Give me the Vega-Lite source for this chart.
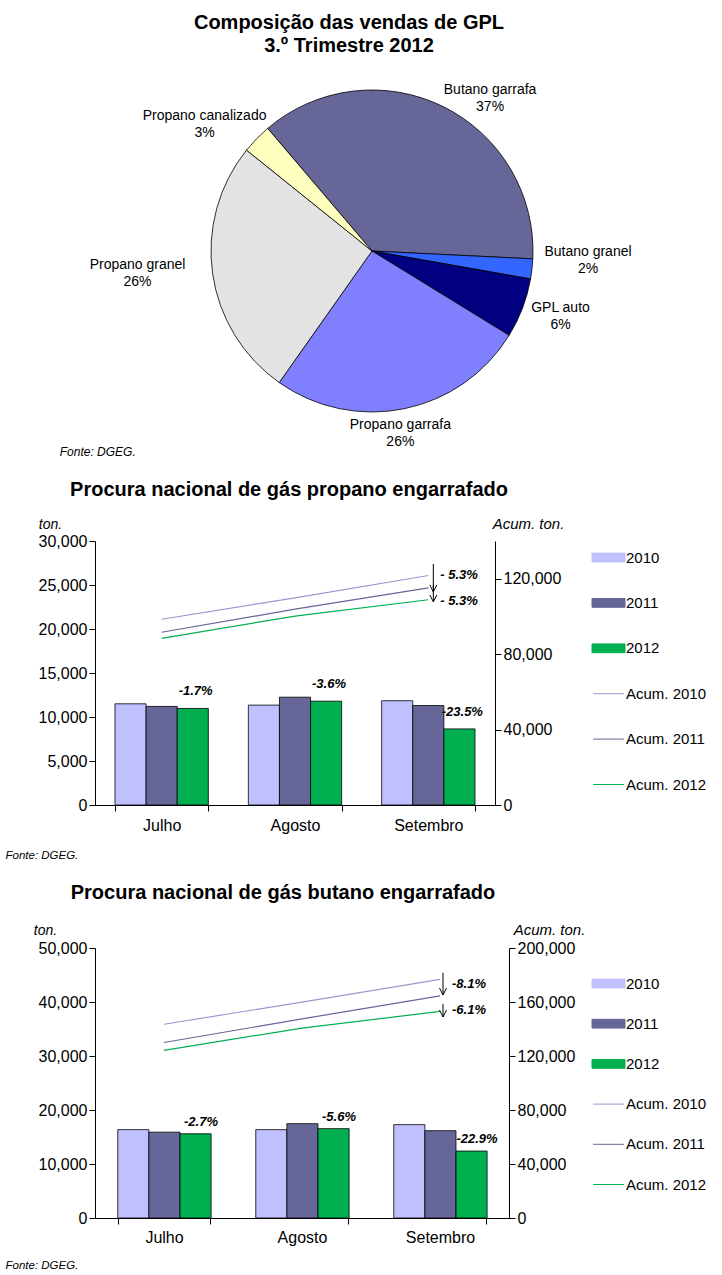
{
  "$schema": "https://vega.github.io/schema/vega-lite/v6.json",
  "background": "white",
  "padding": {"left": 5, "top": 13, "right": 0, "bottom": 0},
  "spacing": 22,
  "resolve": {"scale": {"color": "independent", "y": "independent", "x": "independent", "theta": "independent"}, "legend": {"color": "independent"}},
  "title": {"text": ["Composição  das vendas de GPL", "3.º Trimestre 2012"], "fontSize": 20, "fontWeight": "bold", "lineHeight": 23, "anchor": "middle", "dx": -7, "color": "#000", "offset": 1},
  "datasets": {
    "pie": [
      {"cat": "Butano garrafa", "pct": 37, "k": 1, "lbl": "Butano garrafa\n37%"},
      {"cat": "Butano granel", "pct": 2, "k": 2, "lbl": "Butano granel\n2%"},
      {"cat": "GPL auto", "pct": 6, "k": 3, "lbl": "GPL auto\n6%"},
      {"cat": "Propano garrafa", "pct": 26, "k": 4, "lbl": "Propano garrafa\n26%"},
      {"cat": "Propano granel", "pct": 26, "k": 5, "lbl": "Propano granel\n26%"},
      {"cat": "Propano canalizado", "pct": 3, "k": 6, "lbl": "Propano canalizado\n3%"}
    ],
    "prop_m": [
      {"mes": "Julho", "serie": "2010", "ton": 11500},
      {"mes": "Julho", "serie": "2011", "ton": 11200},
      {"mes": "Julho", "serie": "2012", "ton": 10970},
      {"mes": "Agosto", "serie": "2010", "ton": 11350},
      {"mes": "Agosto", "serie": "2011", "ton": 12250},
      {"mes": "Agosto", "serie": "2012", "ton": 11800},
      {"mes": "Setembro", "serie": "2010", "ton": 11850},
      {"mes": "Setembro", "serie": "2011", "ton": 11300},
      {"mes": "Setembro", "serie": "2012", "ton": 8650}
    ],
    "prop_a": [
      {"mes": "Julho", "serie": "Acum. 2010", "acum": 98500},
      {"mes": "Agosto", "serie": "Acum. 2010", "acum": 109850},
      {"mes": "Setembro", "serie": "Acum. 2010", "acum": 121700},
      {"mes": "Julho", "serie": "Acum. 2011", "acum": 91600},
      {"mes": "Agosto", "serie": "Acum. 2011", "acum": 103850},
      {"mes": "Setembro", "serie": "Acum. 2011", "acum": 115150},
      {"mes": "Julho", "serie": "Acum. 2012", "acum": 88400},
      {"mes": "Agosto", "serie": "Acum. 2012", "acum": 100200},
      {"mes": "Setembro", "serie": "Acum. 2012", "acum": 108850}
    ],
    "prop_ann": [
      {"mes": "Julho", "v": 10970, "lbl": "-1.7%"},
      {"mes": "Agosto", "v": 11800, "lbl": "-3.6%"},
      {"mes": "Setembro", "v": 8650, "lbl": "-23.5%"}
    ],
    "prop_arr": [
      {"mes": "Setembro", "from": 127800, "to": 113000, "ly": 122000, "lbl": "- 5.3%"},
      {"mes": "Setembro", "from": 116700, "to": 107700, "ly": 108200, "lbl": "- 5.3%"}
    ],
    "but_m": [
      {"mes": "Julho", "serie": "2010", "ton": 16360},
      {"mes": "Julho", "serie": "2011", "ton": 15900},
      {"mes": "Julho", "serie": "2012", "ton": 15600},
      {"mes": "Agosto", "serie": "2010", "ton": 16360},
      {"mes": "Agosto", "serie": "2011", "ton": 17470},
      {"mes": "Agosto", "serie": "2012", "ton": 16550},
      {"mes": "Setembro", "serie": "2010", "ton": 17290},
      {"mes": "Setembro", "serie": "2011", "ton": 16170},
      {"mes": "Setembro", "serie": "2012", "ton": 12400}
    ],
    "but_a": [
      {"mes": "Julho", "serie": "Acum. 2010", "acum": 143500},
      {"mes": "Agosto", "serie": "Acum. 2010", "acum": 159900},
      {"mes": "Setembro", "serie": "Acum. 2010", "acum": 176800},
      {"mes": "Julho", "serie": "Acum. 2011", "acum": 130000},
      {"mes": "Agosto", "serie": "Acum. 2011", "acum": 147500},
      {"mes": "Setembro", "serie": "Acum. 2011", "acum": 164500},
      {"mes": "Julho", "serie": "Acum. 2012", "acum": 124200},
      {"mes": "Agosto", "serie": "Acum. 2012", "acum": 140700},
      {"mes": "Setembro", "serie": "Acum. 2012", "acum": 153000}
    ],
    "but_ann": [
      {"mes": "Julho", "v": 15600, "lbl": "-2.7%"},
      {"mes": "Agosto", "v": 16550, "lbl": "-5.6%"},
      {"mes": "Setembro", "v": 12400, "lbl": "-22.9%"}
    ],
    "but_arr": [
      {"mes": "Setembro", "from": 181600, "to": 165200, "ly": 173300, "lbl": "-8.1%"},
      {"mes": "Setembro", "from": 158600, "to": 148900, "ly": 154100, "lbl": "-6.1%"}
    ]
  },
  "vconcat": [
    {
      "width": 554,
      "height": 388,
      "data": {"name": "pie"},
      "title": {"text": "Fonte:  DGEG.", "orient": "bottom", "anchor": "start", "dx": -30, "fontSize": 12, "fontStyle": "italic", "fontWeight": "normal", "offset": -2, "color": "#000"},
      "encoding": {
        "theta": {"field": "pct", "type": "quantitative", "stack": true, "scale": {"range": [-0.7051, 5.5781]}},
        "order": {"field": "k", "type": "quantitative"}
      },
      "layer": [
        {
          "mark": {"type": "arc", "outerRadius": 161, "stroke": "#000", "strokeWidth": 0.8},
          "encoding": {
            "color": {"field": "cat", "type": "nominal", "legend": null,
              "scale": {"domain": ["Butano garrafa", "Butano granel", "GPL auto", "Propano garrafa", "Propano granel", "Propano canalizado"],
                        "range": ["#666699", "#3366FF", "#000080", "#8080FF", "#E3E3E3", "#FFFFC0"]}}
          }
        },
        {"mark": {"type": "text", "radius": 161, "dx": 47, "dy": -17, "fontSize": 14, "lineBreak": "\n", "lineHeight": 17, "color": "#000"},
         "encoding": {"text": {"condition": {"test": "datum.k === 1", "field": "lbl"}, "value": ""}}},
        {"mark": {"type": "text", "radius": 161, "dx": 56, "dy": -17, "fontSize": 14, "lineBreak": "\n", "lineHeight": 17, "color": "#000"},
         "encoding": {"text": {"condition": {"test": "datum.k === 2", "field": "lbl"}, "value": ""}}},
        {"mark": {"type": "text", "radius": 161, "dx": 38, "dy": 0, "fontSize": 14, "lineBreak": "\n", "lineHeight": 17, "color": "#000"},
         "encoding": {"text": {"condition": {"test": "datum.k === 3", "field": "lbl"}, "value": ""}}},
        {"mark": {"type": "text", "radius": 161, "dx": -4, "dy": 16, "fontSize": 14, "lineBreak": "\n", "lineHeight": 17, "color": "#000"},
         "encoding": {"text": {"condition": {"test": "datum.k === 4", "field": "lbl"}, "value": ""}}},
        {"mark": {"type": "text", "radius": 161, "dx": -75, "dy": -8, "fontSize": 14, "lineBreak": "\n", "lineHeight": 17, "color": "#000"},
         "encoding": {"text": {"condition": {"test": "datum.k === 5", "field": "lbl"}, "value": ""}}},
        {"mark": {"type": "text", "radius": 161, "dx": -52, "dy": -23, "fontSize": 14, "lineBreak": "\n", "lineHeight": 17, "color": "#000"},
         "encoding": {"text": {"condition": {"test": "datum.k === 6", "field": "lbl"}, "value": ""}}}
      ]
    },
    {
      "width": 400,
      "height": 264,
      "title": {"text": "Procura nacional  de gás propano engarrafado", "fontSize": 20, "fontWeight": "bold", "anchor": "middle", "dx": -6, "offset": 16, "color": "#000"},
      "encoding": {
        "x": {"field": "mes", "type": "nominal", "sort": ["Julho", "Agosto", "Setembro"],
              "scale": {"paddingInner": 0.3, "paddingOuter": 0.15},
              "axis": {"title": "Fonte: DGEG.", "labelAngle": 0, "tickBand": "extent", "titleX": -90, "titleY": 53, "titleAlign": "left", "titleAnchor": "start", "titleBaseline": "alphabetic", "titleFontSize": 11.5, "labelPadding": 6}}
      },
      "layer": [
        {
          "layer": [
            {
              "data": {"name": "prop_m"},
              "mark": {"type": "bar", "stroke": "#000", "strokeWidth": 0.8},
              "encoding": {
                "xOffset": {"field": "serie", "type": "nominal"},
                "y": {"field": "ton", "type": "quantitative", "scale": {"domain": [0, 30000]},
                      "axis": {"values": [0, 5000, 10000, 15000, 20000, 25000, 30000], "labelOverlap": false, "labelExpr": "format(datum.value, ',')", "title": "ton.", "titleAngle": 0, "titleX": -45, "titleY": -13, "titleAlign": "center", "titleBaseline": "alphabetic", "titleFontSize": 14}},
                "color": {"field": "serie", "type": "nominal",
                  "scale": {"domain": ["2010", "2011", "2012", "Acum. 2010", "Acum. 2011", "Acum. 2012"], "range": ["#C0C0FF", "#666699", "#00B050", "#9999CC", "#666699", "#00B050"]},
                  "legend": {"title": null, "symbolSize": 484, "orient": "none", "legendX": 502, "legendY": 5, "padding": 0, "rowPadding": 25.4,
                    "encode": {"symbols": {"update": {
                      "shape": {"signal": "indexof(datum.value, 'Acum') >= 0 ? 'M-1.4,0H1.4' : 'M-1.5,-0.4H1.5V0.4H-1.5Z'"},
                      "fill": {"signal": "datum.value === '2010' ? '#C0C0FF' : datum.value === '2011' ? '#666699' : datum.value === '2012' ? '#00B050' : 'transparent'"},
                      "stroke": {"signal": "datum.value === 'Acum. 2010' ? '#9999CC' : datum.value === 'Acum. 2011' ? '#666699' : datum.value === 'Acum. 2012' ? '#00B050' : '#000'"},
                      "strokeWidth": {"value": 1},
                      "opacity": {"value": 1}
                    }}}}
                }
              }
            },
            {
              "data": {"name": "prop_ann"},
              "mark": {"type": "text", "dx": 34, "dy": -17, "fontSize": 13, "fontWeight": "bold", "fontStyle": "italic", "color": "#000"},
              "encoding": {
                "y": {"field": "v", "type": "quantitative"},
                "text": {"field": "lbl"}
              }
            }
          ]
        },
        {
          "layer": [
            {
              "data": {"name": "prop_a"},
              "mark": {"type": "line", "strokeWidth": 1.2},
              "encoding": {
                "y": {"field": "acum", "type": "quantitative", "scale": {"domain": [0, 140000]},
                      "axis": {"orient": "right", "values": [0, 20000, 40000, 60000, 80000, 100000, 120000, 140000], "labelOverlap": false, "labelExpr": "format(datum.value, ',')", "title": "Acum. ton.", "titleAngle": 0, "titleX": 33, "titleY": -13, "titleAlign": "center", "titleBaseline": "alphabetic", "titleFontSize": 15}},
                "color": {"field": "serie", "type": "nominal",
                  "legend": {"title": null, "symbolSize": 484, "orient": "none", "legendX": 502, "legendY": 5, "padding": 0, "rowPadding": 25.4,
                    "encode": {"symbols": {"update": {
                      "shape": {"signal": "indexof(datum.value, 'Acum') >= 0 ? 'M-1.4,0H1.4' : 'M-1.5,-0.4H1.5V0.4H-1.5Z'"},
                      "fill": {"signal": "datum.value === '2010' ? '#C0C0FF' : datum.value === '2011' ? '#666699' : datum.value === '2012' ? '#00B050' : 'transparent'"},
                      "stroke": {"signal": "datum.value === 'Acum. 2010' ? '#9999CC' : datum.value === 'Acum. 2011' ? '#666699' : datum.value === 'Acum. 2012' ? '#00B050' : '#000'"},
                      "strokeWidth": {"value": 1},
                      "opacity": {"value": 1}
                    }}}}}
              }
            },
            {
              "data": {"name": "prop_arr"},
              "mark": {"type": "rule", "xOffset": 5, "color": "#000", "strokeWidth": 1},
              "encoding": {
                "y": {"field": "from", "type": "quantitative"},
                "y2": {"field": "to"}
              }
            },
            {
              "data": {"name": "prop_arr"},
              "mark": {"type": "point", "xOffset": 5, "shape": "M-0.7,-1.4L0,0L0.7,-1.4", "size": 100, "filled": false, "color": "#000", "strokeWidth": 1, "opacity": 1},
              "encoding": {
                "y": {"field": "to", "type": "quantitative"}
              }
            },
            {
              "data": {"name": "prop_arr"},
              "mark": {"type": "text", "dx": 12, "align": "left", "fontSize": 13, "fontWeight": "bold", "fontStyle": "italic", "color": "#000"},
              "encoding": {
                "y": {"field": "ly", "type": "quantitative"},
                "text": {"field": "lbl"}
              }
            }
          ]
        }
      ],
      "resolve": {"scale": {"y": "independent"}}
    },
    {
      "width": 414,
      "height": 270,
      "title": {"text": "Procura nacional  de gás butano engarrafado", "fontSize": 20, "fontWeight": "bold", "anchor": "middle", "dx": -19, "offset": 19, "color": "#000"},
      "encoding": {
        "x": {"field": "mes", "type": "nominal", "sort": ["Julho", "Agosto", "Setembro"],
              "scale": {"paddingInner": 0.33, "paddingOuter": 0.165},
              "axis": {"title": "Fonte: DGEG.", "labelAngle": 0, "tickBand": "extent", "titleX": -90, "titleY": 50, "titleAlign": "left", "titleAnchor": "start", "titleBaseline": "alphabetic", "titleFontSize": 11.5, "labelPadding": 5}}
      },
      "layer": [
        {
          "layer": [
            {
              "data": {"name": "but_m"},
              "mark": {"type": "bar", "stroke": "#000", "strokeWidth": 0.8},
              "encoding": {
                "xOffset": {"field": "serie", "type": "nominal"},
                "y": {"field": "ton", "type": "quantitative", "scale": {"domain": [0, 50000]},
                      "axis": {"values": [0, 5000, 10000, 15000, 20000, 25000, 30000, 35000, 40000, 45000, 50000], "labelOverlap": false, "labelExpr": "format(datum.value, ',')", "title": "ton.", "titleAngle": 0, "titleX": -50, "titleY": -14, "titleAlign": "center", "titleBaseline": "alphabetic", "titleFontSize": 14}},
                "color": {"field": "serie", "type": "nominal",
                  "scale": {"domain": ["2010", "2011", "2012", "Acum. 2010", "Acum. 2011", "Acum. 2012"], "range": ["#C0C0FF", "#666699", "#00B050", "#9999CC", "#666699", "#00B050"]},
                  "legend": {"title": null, "symbolSize": 484, "orient": "none", "legendX": 502, "legendY": 24, "padding": 0, "rowPadding": 20.2,
                    "encode": {"symbols": {"update": {
                      "shape": {"signal": "indexof(datum.value, 'Acum') >= 0 ? 'M-1.4,0H1.4' : 'M-1.5,-0.4H1.5V0.4H-1.5Z'"},
                      "fill": {"signal": "datum.value === '2010' ? '#C0C0FF' : datum.value === '2011' ? '#666699' : datum.value === '2012' ? '#00B050' : 'transparent'"},
                      "stroke": {"signal": "datum.value === 'Acum. 2010' ? '#9999CC' : datum.value === 'Acum. 2011' ? '#666699' : datum.value === 'Acum. 2012' ? '#00B050' : '#000'"},
                      "strokeWidth": {"value": 1},
                      "opacity": {"value": 1}
                    }}}}
                }
              }
            },
            {
              "data": {"name": "but_ann"},
              "mark": {"type": "text", "dx": 37, "dy": -12, "fontSize": 13, "fontWeight": "bold", "fontStyle": "italic", "color": "#000"},
              "encoding": {
                "y": {"field": "v", "type": "quantitative"},
                "text": {"field": "lbl"}
              }
            }
          ]
        },
        {
          "layer": [
            {
              "data": {"name": "but_a"},
              "mark": {"type": "line", "strokeWidth": 1.2},
              "encoding": {
                "y": {"field": "acum", "type": "quantitative", "scale": {"domain": [0, 200000]},
                      "axis": {"orient": "right", "values": [0, 20000, 40000, 60000, 80000, 100000, 120000, 140000, 160000, 180000, 200000], "labelOverlap": false, "labelExpr": "format(datum.value, ',')", "title": "Acum. ton.", "titleAngle": 0, "titleX": 40, "titleY": -14, "titleAlign": "center", "titleBaseline": "alphabetic", "titleFontSize": 15}},
                "color": {"field": "serie", "type": "nominal",
                  "legend": {"title": null, "symbolSize": 484, "orient": "none", "legendX": 502, "legendY": 24, "padding": 0, "rowPadding": 20.2,
                    "encode": {"symbols": {"update": {
                      "shape": {"signal": "indexof(datum.value, 'Acum') >= 0 ? 'M-1.4,0H1.4' : 'M-1.5,-0.4H1.5V0.4H-1.5Z'"},
                      "fill": {"signal": "datum.value === '2010' ? '#C0C0FF' : datum.value === '2011' ? '#666699' : datum.value === '2012' ? '#00B050' : 'transparent'"},
                      "stroke": {"signal": "datum.value === 'Acum. 2010' ? '#9999CC' : datum.value === 'Acum. 2011' ? '#666699' : datum.value === 'Acum. 2012' ? '#00B050' : '#000'"},
                      "strokeWidth": {"value": 1},
                      "opacity": {"value": 1}
                    }}}}}
              }
            },
            {
              "data": {"name": "but_arr"},
              "mark": {"type": "rule", "xOffset": 3, "color": "#000", "strokeWidth": 1},
              "encoding": {
                "y": {"field": "from", "type": "quantitative"},
                "y2": {"field": "to"}
              }
            },
            {
              "data": {"name": "but_arr"},
              "mark": {"type": "point", "xOffset": 3, "shape": "M-0.7,-1.4L0,0L0.7,-1.4", "size": 100, "filled": false, "color": "#000", "strokeWidth": 1, "opacity": 1},
              "encoding": {
                "y": {"field": "to", "type": "quantitative"}
              }
            },
            {
              "data": {"name": "but_arr"},
              "mark": {"type": "text", "dx": 12, "align": "left", "fontSize": 13, "fontWeight": "bold", "fontStyle": "italic", "color": "#000"},
              "encoding": {
                "y": {"field": "ly", "type": "quantitative"},
                "text": {"field": "lbl"}
              }
            }
          ]
        }
      ],
      "resolve": {"scale": {"y": "independent"}}
    }
  ],
  "config": {
    "font": "Liberation Sans",
    "view": {"stroke": null},
    "axis": {"grid": false, "domainColor": "#000", "tickColor": "#000", "labelColor": "#000", "titleColor": "#000", "labelFontSize": 16, "titleFontWeight": "normal", "titleFontStyle": "italic", "tickSize": 6, "domainWidth": 1, "tickWidth": 1, "labelOverlap": false},
    "legend": {"labelFontSize": 15, "labelOffset": 6, "labelColor": "#000"},
    "title": {"font": "Liberation Sans", "color": "#000"}
  }
}
